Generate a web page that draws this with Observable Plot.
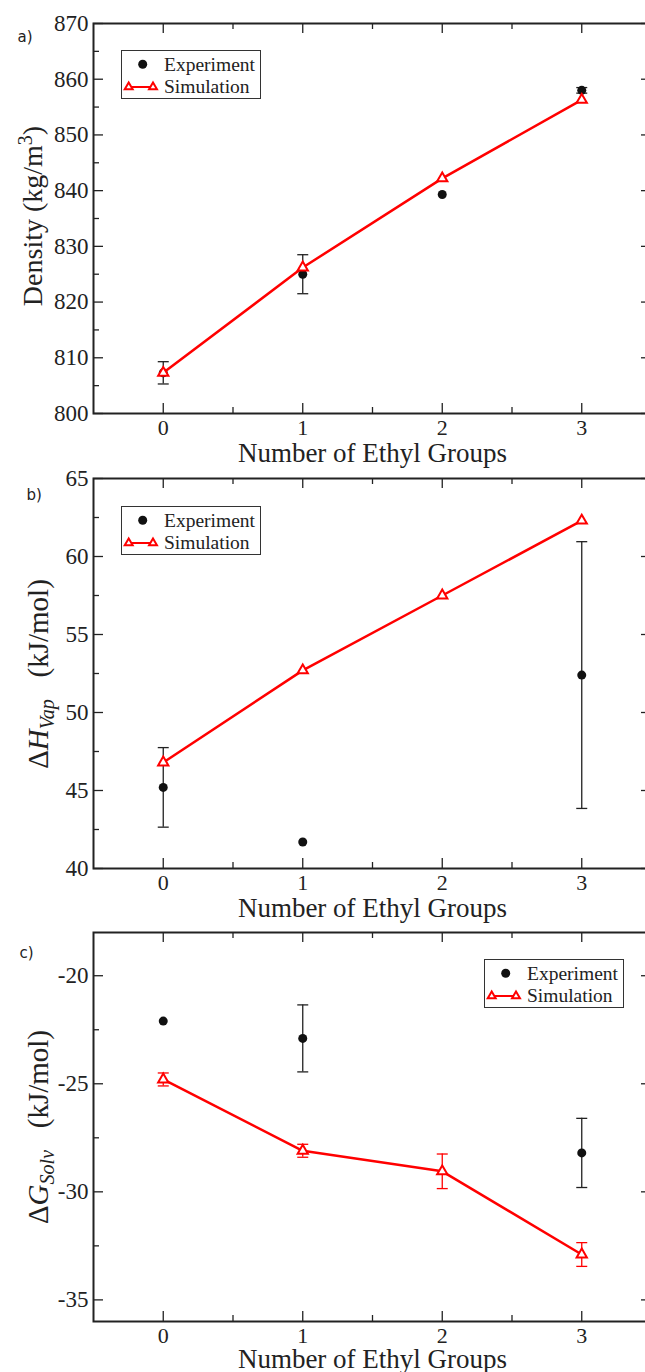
<!DOCTYPE html>
<html>
<head>
<meta charset="utf-8">
<script src="https://cdn.jsdelivr.net/npm/d3@7"></script>
<script src="https://cdn.jsdelivr.net/npm/@observablehq/plot@0.6"></script>
<style>
  html, body { margin: 0; padding: 0; background: #fff; overflow: hidden; }
  #wrap { position: relative; width: 645px; height: 1372px; overflow: hidden; }
  .panel { position: absolute; left: 0; }
  .ytitle { position: absolute; font-family: "Liberation Serif", serif; font-size: 28px; line-height: 1;
            white-space: nowrap; color: #222; transform: translate(-50%, -50%) rotate(-90deg); }
  .ytitle.big { font-size: 29px; }
  .ytitle sub, .ytitle sup { line-height: 0; font-size: 20px; }
  .legend { position: absolute; box-sizing: border-box; border: 1px solid #333; background: #fff; }
</style>
</head>
<body>
<div id="wrap"></div>
<script>
// ---------- data ----------
const xCats = [0, 1, 2, 3];
const xTickLabels = ["0", "1", "2", "3"];
const xMinor = [0.5, 1.5, 2.5];
const xTitle = "Number of Ethyl Groups";
const legendLabels = ["Experiment", "Simulation"];

// a) density (kg/m^3)
const densExp    = [807.3, 825.0, 839.3, 858.0];
const densExpErr = [2.0, 3.5, 0, 0.5];
const densSim    = [807.3, 826.2, 842.2, 856.3];
const densSimErr = [0, 0, 0, 0];
const densTicks  = [800, 810, 820, 830, 840, 850, 860, 870];
const densMinor  = [805, 815, 825, 835, 845, 855, 865];

// b) heat of vaporization (kJ/mol)
const hvapExp    = [45.2, 41.7, null, 52.4];
const hvapExpErr = [2.55, 0, null, 8.55];
const hvapSim    = [46.8, 52.7, 57.5, 62.3];
const hvapSimErr = [0, 0, 0, 0];
const hvapTicks  = [40, 45, 50, 55, 60, 65];
const hvapMinor  = [42.5, 47.5, 52.5, 57.5, 62.5];

// c) solvation free energy (kJ/mol)
const gsolvExp    = [-22.1, -22.9, null, -28.2];
const gsolvExpErr = [0, 1.55, null, 1.6];
const gsolvSim    = [-24.8, -28.1, -29.05, -32.9];
const gsolvSimErr = [0.3, 0.3, 0.8, 0.55];
const gsolvTicks  = [-35, -30, -25, -20];
const gsolvMinor  = [-32.5, -27.5, -22.5];

// ---------- drawing ----------
const INK = "#222";
const RED = "#ff0000";
const TRI_R = 3.8;
const capSymbol = { draw(ctx, size) { const w = Math.sqrt(size / Math.PI); ctx.moveTo(-w, 0); ctx.lineTo(w, 0); } };

function makePanel(o) {
  const FH = o.height - o.mt - o.mb;
  const FW = (645 + 6) - 93;
  const rows = (vals, errs) => xCats.map((x, i) => ({x, v: vals[i], e: errs[i]})).filter(d => d.v != null);
  const exp = rows(o.exp, o.expErr), sim = rows(o.sim, o.simErr);
  const expE = exp.filter(d => d.e > 0), simE = sim.filter(d => d.e > 0);
  const tk = {stroke: INK, strokeWidth: 1.3};
  const errMarks = (data, color) => [
    Plot.ruleX(data, {x: "x", y1: d => d.v - d.e, y2: d => d.v + d.e, stroke: color, strokeWidth: 1.3}),
    Plot.dot(data, {x: "x", y: d => d.v - d.e, symbol: capSymbol, r: 5.5, stroke: color, strokeWidth: 1.3, fill: "none"}),
    Plot.dot(data, {x: "x", y: d => d.v + d.e, symbol: capSymbol, r: 5.5, stroke: color, strokeWidth: 1.3, fill: "none"})
  ];
  return Plot.plot({
    width: 645, height: o.height,
    marginLeft: 93, marginRight: -6, marginTop: o.mt, marginBottom: o.mb,
    x: {domain: [-0.5, 3.5]},
    y: {domain: o.domain},
    style: {fontFamily: "'Liberation Serif', serif", fontSize: "23px", color: INK, background: "transparent", overflow: "visible"},
    marks: [
      Plot.axisX(xCats, {tickSize: 0, tickPadding: 6, fontSize: 22, label: null, tickFormat: d => xTickLabels[xCats.indexOf(d)]}),
      Plot.axisY(o.ticks, {tickSize: 0, tickPadding: 5, label: null, tickFormat: d => String(d)}),
      // inward ticks on all four sides
      Plot.tickX(xCats, {x: d => d, insetTop: FH - 10, ...tk}),
      Plot.tickX(xCats, {x: d => d, insetBottom: FH - 10, ...tk}),
      Plot.tickX(xMinor, {x: d => d, insetTop: FH - 6, ...tk}),
      Plot.tickX(xMinor, {x: d => d, insetBottom: FH - 6, ...tk}),
      Plot.tickY(o.ticks, {y: d => d, insetRight: FW - 10, ...tk}),
      Plot.tickY(o.ticks, {y: d => d, insetLeft: FW - 10, ...tk}),
      Plot.tickY(o.minor, {y: d => d, insetRight: FW - 6, ...tk}),
      Plot.tickY(o.minor, {y: d => d, insetLeft: FW - 6, ...tk}),
      Plot.frame({stroke: INK, strokeWidth: 2}),
      // experiment
      ...errMarks(expE, INK),
      Plot.dot(exp, {x: "x", y: "v", r: 4.5, fill: "#111", stroke: "none"}),
      // simulation
      Plot.line(sim, {x: "x", y: "v", stroke: RED, strokeWidth: 2.5}),
      ...errMarks(simE, RED),
      Plot.dot(sim, {x: "x", y: "v", symbol: "triangle", r: TRI_R, stroke: RED, strokeWidth: 2, fill: "white"}),
      // labels
      Plot.text([xTitle], {text: d => d, frameAnchor: "bottom", dy: o.tdy, lineAnchor: "bottom", fontSize: 27, fill: INK}),
      Plot.text([o.label], {text: d => d, frameAnchor: "top-left", dx: o.ldx, dy: o.ldy, textAnchor: "start",
                            lineAnchor: "bottom", fontFamily: "'DejaVu Sans', sans-serif", fontSize: 15, fill: INK})
    ]
  });
}

const wrap = document.getElementById("wrap");
function place(node, top) {
  const d = document.createElement("div");
  d.className = "panel"; d.style.top = top + "px";
  d.appendChild(node); wrap.appendChild(d);
}
function ytitle(html, cx, cy, cls) {
  const d = document.createElement("div");
  d.className = "ytitle" + (cls ? " " + cls : ""); d.innerHTML = html;
  d.style.left = cx + "px"; d.style.top = cy + "px";
  wrap.appendChild(d);
}
function legend(left, top) {
  const d = document.createElement("div");
  d.className = "legend";
  d.style.left = left + "px"; d.style.top = top + "px";
  d.style.width = "140px"; d.style.height = "49px";
  const tri = (cx, cy) => `<path d="${d3.symbol(d3.symbolTriangle2, Math.PI * TRI_R * TRI_R)()}" transform="translate(${cx},${cy})" fill="white" stroke="${RED}" stroke-width="2"/>`;
  d.innerHTML = `<svg width="138" height="47" style="display:block;font-family:'Liberation Serif',serif;font-size:19.5px">
    <circle cx="20.7" cy="13.3" r="4.5" fill="#111"/>
    <text x="42" y="19.7" fill="${INK}">${legendLabels[0]}</text>
    <line x1="6.7" x2="31" y1="36" y2="36" stroke="${RED}" stroke-width="2"/>
    ${tri(6.7, 36)}${tri(31, 36)}
    <text x="42" y="42.3" fill="${INK}">${legendLabels[1]}</text>
  </svg>`;
  wrap.appendChild(d);
}

place(makePanel({height: 470, mt: 23, mb: 57, domain: [800, 870], ticks: densTicks, minor: densMinor,
  exp: densExp, expErr: densExpErr, sim: densSim, simErr: densSimErr, label: "a)", ldx: -76, ldy: 18, tdy: 48}), 0);
place(makePanel({height: 455, mt: 8, mb: 57, domain: [40, 65], ticks: hvapTicks, minor: hvapMinor,
  exp: hvapExp, expErr: hvapExpErr, sim: hvapSim, simErr: hvapSimErr, label: "b)", ldx: -67, ldy: 21, tdy: 48}), 470);
place(makePanel({height: 447, mt: 7, mb: 51, domain: [-36, -18], ticks: gsolvTicks, minor: gsolvMinor,
  exp: gsolvExp, expErr: gsolvExpErr, sim: gsolvSim, simErr: gsolvSimErr, label: "c)", ldx: -74, ldy: 25, tdy: 46}), 925);

ytitle(`Density (kg/m<sup>3</sup>)`, 33, 216);
ytitle(`Δ<i>H</i><sub><i>Vap</i></sub>&nbsp;&nbsp;&nbsp;(kJ/mol)`, 38, 674, "big");
ytitle(`Δ<i>G</i><sub><i>Solv</i></sub>&nbsp;&nbsp;&nbsp;(kJ/mol)`, 38, 1127, "big");

legend(121, 50);
legend(121, 506);
legend(484, 959);
</script>
</body>
</html>
